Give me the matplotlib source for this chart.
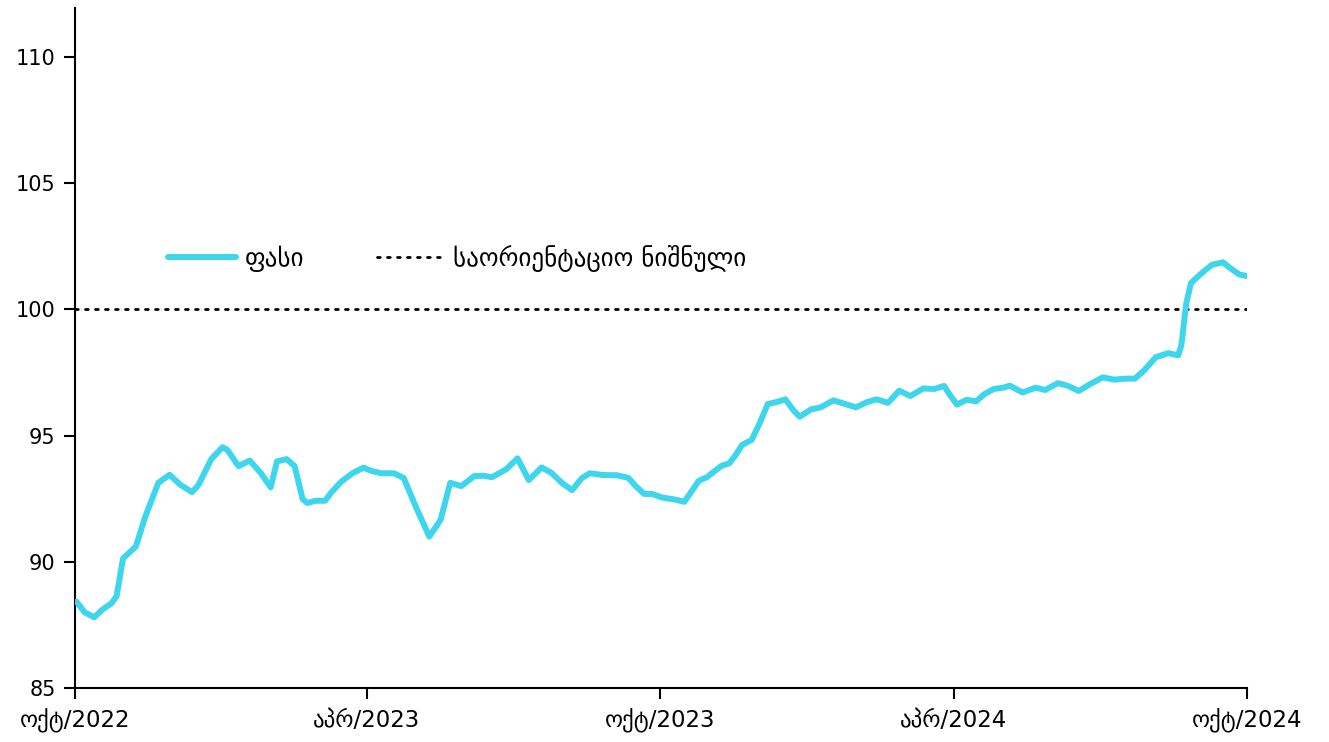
import matplotlib
matplotlib.use("Agg")
import matplotlib.pyplot as plt
import pandas as pd

plt.rcParams['font.family'] = ['DejaVu Sans']

dates = [
    "2022-10-02", "2022-10-07", "2022-10-13", "2022-10-18", "2022-10-24", "2022-10-27",
    "2022-10-31", "2022-11-04", "2022-11-08", "2022-11-14", "2022-11-22", "2022-11-29",
    "2022-12-06", "2022-12-13", "2022-12-17", "2022-12-25", "2023-01-01", "2023-01-04",
    "2023-01-11", "2023-01-18", "2023-01-25", "2023-01-31", "2023-02-04", "2023-02-10",
    "2023-02-15", "2023-02-20", "2023-02-23", "2023-02-28", "2023-03-06", "2023-03-10",
    "2023-03-16", "2023-03-23", "2023-03-30", "2023-04-04", "2023-04-10", "2023-04-18",
    "2023-04-24", "2023-05-02", "2023-05-10", "2023-05-17", "2023-05-23", "2023-05-30",
    "2023-06-07", "2023-06-13", "2023-06-18", "2023-06-27", "2023-07-04", "2023-07-11",
    "2023-07-19", "2023-07-25", "2023-08-01", "2023-08-07", "2023-08-13", "2023-08-18",
    "2023-08-26", "2023-09-04", "2023-09-11", "2023-09-16", "2023-09-21", "2023-09-26",
    "2023-10-02", "2023-10-10", "2023-10-16", "2023-10-20", "2023-10-25", "2023-10-30",
    "2023-11-08", "2023-11-13", "2023-11-17", "2023-11-21", "2023-11-27", "2023-12-02",
    "2023-12-07", "2023-12-13", "2023-12-18", "2023-12-23", "2023-12-27", "2024-01-03",
    "2024-01-09", "2024-01-17", "2024-01-24", "2024-01-31", "2024-02-07", "2024-02-13",
    "2024-02-20", "2024-02-27", "2024-03-05", "2024-03-13", "2024-03-20", "2024-03-26",
    "2024-03-29", "2024-04-03", "2024-04-09", "2024-04-15", "2024-04-20", "2024-04-26",
    "2024-05-02", "2024-05-06", "2024-05-14", "2024-05-22", "2024-05-28", "2024-06-05",
    "2024-06-11", "2024-06-18", "2024-06-25", "2024-07-03", "2024-07-10", "2024-07-18",
    "2024-07-23", "2024-07-29", "2024-08-05", "2024-08-13", "2024-08-19", "2024-08-21",
    "2024-08-24", "2024-08-27", "2024-09-03", "2024-09-09", "2024-09-16", "2024-09-20",
    "2024-09-26", "2024-10-01",
]

price = [
    88.42, 88.00, 87.80, 88.10, 88.37, 88.65,
    90.14, 90.37, 90.61, 91.82, 93.13, 93.45,
    93.04, 92.76, 93.04, 94.07, 94.54, 94.44,
    93.79, 94.01, 93.51, 92.95, 93.98, 94.07,
    93.79, 92.48, 92.33, 92.42, 92.42, 92.76,
    93.17, 93.51, 93.73, 93.60, 93.51, 93.51,
    93.32, 92.12, 91.00, 91.66, 93.13, 93.00,
    93.40, 93.41, 93.35, 93.67, 94.10, 93.24,
    93.74, 93.53, 93.11, 92.84, 93.31, 93.51,
    93.44, 93.43, 93.33, 92.98, 92.69, 92.69,
    92.55, 92.47, 92.38, 92.74, 93.21, 93.35,
    93.80, 93.90, 94.23, 94.63, 94.83, 95.49,
    96.25, 96.34, 96.44, 96.01, 95.75, 96.04,
    96.12, 96.40, 96.26, 96.12, 96.33, 96.44,
    96.30, 96.78, 96.57, 96.87, 96.85, 96.97,
    96.67, 96.23, 96.42, 96.36, 96.64, 96.85,
    96.90, 96.98, 96.71, 96.90, 96.81, 97.08,
    96.98, 96.77, 97.04, 97.31, 97.22, 97.26,
    97.26, 97.60, 98.11, 98.27, 98.18, 98.59,
    100.23, 101.05, 101.46, 101.77, 101.87, 101.66,
    101.39, 101.32,
]

reference_level = 100
tick_dates = ["2022-10-01", "2023-04-01", "2023-10-01", "2024-04-01", "2024-10-01"]
tick_labels = ["ოქტ/2022", "აპრ/2023", "ოქტ/2023", "აპრ/2024", "ოქტ/2024"]
y_ticks = [85, 90, 95, 100, 105, 110]
series_label = "ფასი"
reference_label = "საორიენტაციო ნიშნული"

x = pd.to_datetime(dates)
xt = pd.to_datetime(tick_dates)

fig = plt.figure(figsize=(13.29, 7.42), dpi=100)
ax = fig.add_axes([0.0564, 0.0728, 0.882, 0.9162])

line_color = "#3DD6EC"
ax.plot(x, price, color=line_color, linewidth=4.3, solid_capstyle="round",
        solid_joinstyle="round", label=series_label, zorder=3)
ax.axhline(reference_level, color="black", linewidth=2.0, linestyle=(0, (1, 2.6)),
           dash_capstyle="round", label=reference_label, zorder=2)

ax.set_xlim(xt[0], xt[-1])
ax.set_ylim(85, 111.94)
ax.set_yticks(y_ticks)
ax.set_xticks(xt)
ax.set_xticklabels(tick_labels)

for s in ["top", "right"]:
    ax.spines[s].set_visible(False)
for s in ["left", "bottom"]:
    ax.spines[s].set_linewidth(1.5)
    ax.spines[s].set_color("black")

ax.tick_params(axis="both", width=1.5, length=8, color="black", labelcolor="black")
ax.tick_params(axis="y", labelsize=15, pad=6)
ax.tick_params(axis="x", labelsize=16.5, pad=7)

leg = ax.legend(loc="center left", bbox_to_anchor=(0.0794, 0.632), ncol=2, frameon=False,
                fontsize=18, handlelength=2.7, handletextpad=0.36, columnspacing=2.9,
                borderaxespad=0, borderpad=0)

fig.savefig("out.png", dpi=100)
